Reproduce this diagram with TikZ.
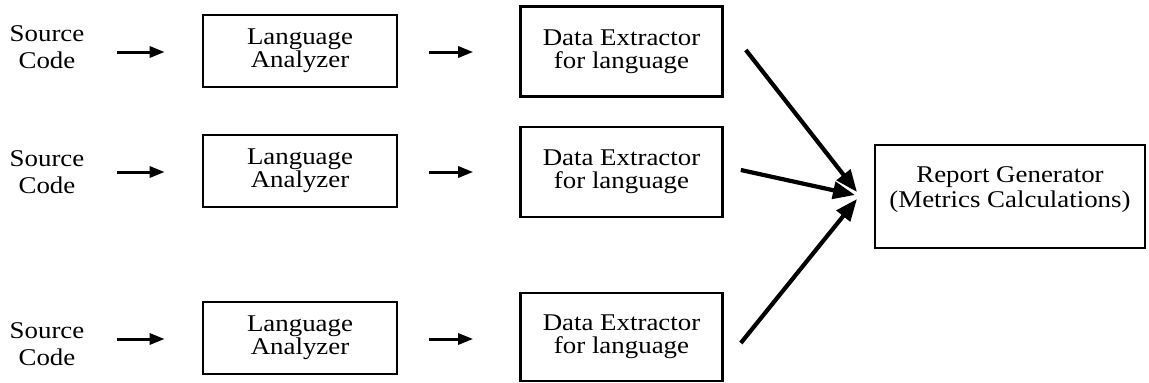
\documentclass[tikz,border=0pt]{standalone}
\usepackage{fontspec}
\setmainfont[FakeStretch=1.12]{Liberation Serif}
\usetikzlibrary{arrows.meta}
\tikzset{
  lbl/.style={align=center, inner sep=0pt, font=\fontsize{24}{27}\selectfont},
  stage/.style={draw, line width=2.7pt, align=center, inner sep=0pt,
    font=\fontsize{24}{23}\selectfont},
  smallarr/.style={line width=3pt, -{Triangle[length=15pt,width=11pt]}},
  bigarr/.style={line width=4.2pt, -{Triangle[length=22pt,width=17pt]}},
}
\begin{document}
\begin{tikzpicture}[x=1pt,y=-1pt]
\useasboundingbox (0,0) rectangle (1149,383);
% source inputs
\node[lbl] (sc1) at (47,47) {Source\\Code};
\node[lbl] (sc2) at (47,172) {Source\\Code};
\node[lbl] (sc3) at (47,344) {Source\\Code};
% language analyzers
\node[stage, minimum width=194pt, minimum height=72pt] (la1) at (300,51) {Language\\Analyzer};
\node[stage, minimum width=194pt, minimum height=72pt] (la2) at (300,171) {Language\\Analyzer};
\node[stage, minimum width=194pt, minimum height=72pt] (la3) at (300,338) {Language\\Analyzer};
% data extractors
\node[stage, minimum width=202pt, minimum height=90pt] (de1) at (621.5,51.5) {Data Extractor\\for language};
\node[stage, minimum width=202pt, minimum height=90pt] (de2) at (621.5,172) {Data Extractor\\for language};
\node[stage, minimum width=202pt, minimum height=88pt] (de3) at (621.5,337) {Data Extractor\\for language};
% report generator (text sits a little above the box centre)
\node[stage, minimum width=270pt, minimum height=103pt, font=\fontsize{24}{25}\selectfont] (rg) at (1010,196.5) {Report Generator\\(Metrics Calculations)\rule[-18pt]{0pt}{0pt}};
% tips of the converging arrows
\coordinate (t1) at (857,192);
\coordinate (t2) at (855,195);
\coordinate (t3) at (857,199);
% source -> analyzer -> extractor
\foreach \i in {1,2,3}{
  \draw[smallarr, shorten <=32pt, shorten >=37pt] ([yshift=-1pt]sc\i.east |- la\i.west) -- ([yshift=-1pt]la\i.west);
  \draw[smallarr, shorten <=31pt, shorten >=46pt] ([yshift=-1pt]la\i.east) -- ([yshift=-1pt]la\i.east -| de\i.west);
}
% extractors -> report generator
\draw[bigarr] ([shift={(22,-1.5)}]de1.east) -- (t1);
\draw[bigarr] ([shift={(17,-2)}]de2.east) -- (t2);
\draw[bigarr] ([shift={(17,6)}]de3.east) -- (t3);
\end{tikzpicture}
\end{document}
